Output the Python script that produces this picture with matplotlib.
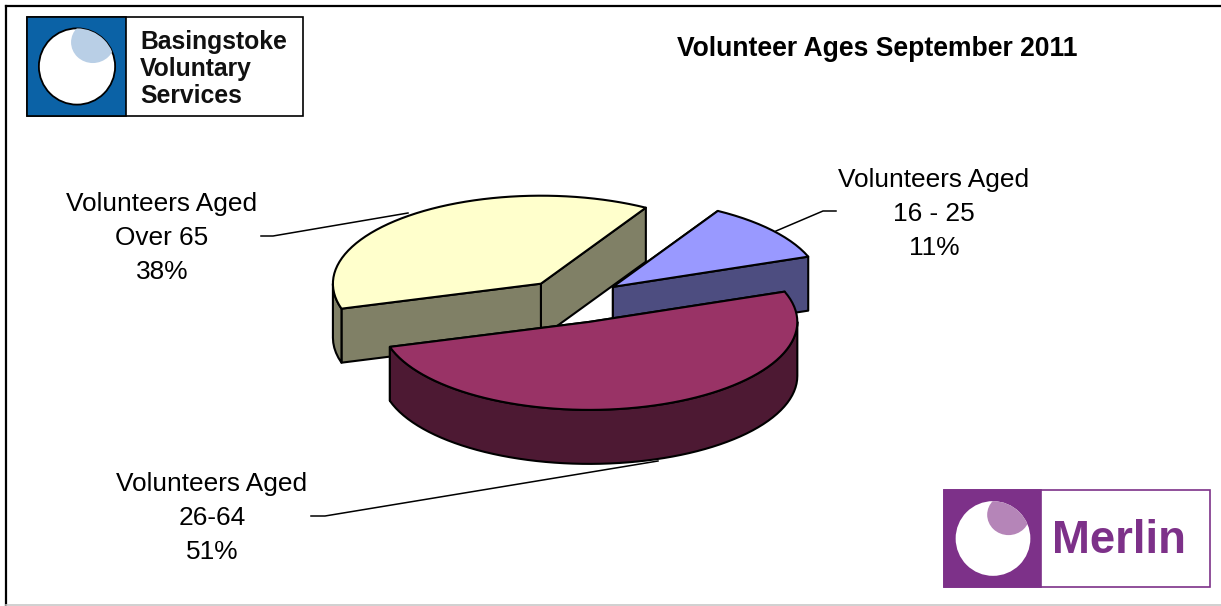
import numpy as np
import matplotlib
matplotlib.use("Agg")
import matplotlib.pyplot as plt
from matplotlib.patches import Circle, Ellipse, Polygon, Rectangle

plt.rcParams["font.family"] = ["Liberation Sans", "DejaVu Sans"]

# pie data, counter-clockwise from the first slice
labels = ["Volunteers Aged\n16 - 25", "Volunteers Aged\nOver 65", "Volunteers Aged\n26-64"]
values = [11, 38, 51]
top_colors = ["#9999FF", "#FFFFCC", "#993366"]
side_colors = ["#4D4D80", "#808066", "#4D1933"]
title = "Volunteer Ages September 2011"

W, H = 1221, 606
START_ANGLE = 20.1
CENTER = (573, 301)
RX, RY = 208, 88
DEPTH = 54
EXPLODE = 0.25

# label centre and leader line for each slice, pixels
label_pos = [(934, 214), (162, 238), (212, 518)]
leaders = [
    [(836, 211), (823, 211), (776, 231)],
    [(261, 236), (273, 236), (408, 213)],
    [(311, 516), (325, 516), (658, 461)],
]


def rim(cx, cy, a0, a1):
    t = np.radians(np.linspace(a0, a1, max(int(abs(a1 - a0) / 2.5), 2)))
    return np.column_stack([cx + RX * np.cos(t), cy - RY * np.sin(t)])


def draw_face(ax, pts, color, zorder):
    ax.add_patch(Polygon(pts, closed=True, facecolor=color, edgecolor="black",
                         linewidth=1.5, joinstyle="round", zorder=zorder))


def draw_slice(ax, a0, a1, top, side, zorder):
    mid = np.radians((a0 + a1) / 2)
    cx = CENTER[0] + EXPLODE * RX * np.cos(mid)
    cy = CENTER[1] - EXPLODE * RY * np.sin(mid)

    # cut faces, back one first
    for a in sorted([a0, a1], key=lambda v: -np.sin(np.radians(v))):
        edge = rim(cx, cy, a, a)[0]
        face = [(cx, cy), edge, edge + (0, DEPTH), (cx, cy + DEPTH)]
        draw_face(ax, face, side, zorder)

    # outer wall, only the part that faces the viewer
    for lo, hi in [(180, 360), (540, 720)]:
        s, e = max(a0, lo), min(a1, hi)
        if e > s:
            arc = rim(cx, cy, s, e)
            draw_face(ax, np.vstack([arc, arc[::-1] + (0, DEPTH)]), side, zorder)

    draw_face(ax, np.vstack([[(cx, cy)], rim(cx, cy, a0, a1)]), top, zorder)


def draw_logo(ax, x0, x1, x2, y0, y1, color, shade, ring):
    size = y1 - y0
    ax.add_patch(Rectangle((x0, y0), x2 - x0, size, facecolor="white", edgecolor=ring,
                           linewidth=1.2, zorder=5))
    ax.add_patch(Rectangle((x0, y0), x1 - x0, size, facecolor=color, edgecolor=ring,
                           linewidth=1.2, zorder=6))
    cx, cy = (x0 + x1) / 2 + 0.5, (y0 + y1) / 2
    disc = Circle((cx, cy), 0.385 * size, facecolor="white", edgecolor=ring if ring == "black" else "none",
                  linewidth=1.3, zorder=7)
    ax.add_patch(disc)
    spot = Ellipse((cx + 0.16 * size, cy - 0.245 * size), 0.44 * size, 0.42 * size,
                   facecolor=shade, edgecolor="none", zorder=8)
    ax.add_patch(spot)
    spot.set_clip_path(disc)


def main():
    fig = plt.figure(figsize=(W / 100, H / 100), dpi=100)
    ax = fig.add_axes([0, 0, 1, 1])
    ax.set_xlim(0, W)
    ax.set_ylim(H, 0)
    ax.axis("off")

    # frame
    ax.plot([6, 6], [H, 6], color="black", lw=1.6, zorder=1)
    ax.plot([6, W], [6, 6], color="black", lw=1.6, zorder=1)
    ax.plot([6, W], [604.5, 604.5], color="#C8C8C8", lw=1.2, zorder=1)

    for pts in leaders:
        xs, ys = zip(*pts)
        ax.plot(xs, ys, color="black", lw=1.1, zorder=2)

    spans = np.array(values) / sum(values) * 360
    ends = START_ANGLE + np.cumsum(spans)
    starts = ends - spans
    # painted back to front: yellow, blue, then the big front slice
    for i, z in zip([1, 0, 2], [3, 3.1, 3.2]):
        draw_slice(ax, starts[i], ends[i], top_colors[i], side_colors[i], z)

    for label, value, (x, y) in zip(labels, values, label_pos):
        ax.text(x, y, f"{label}\n{value}%", ha="center", va="center", fontsize=18.9,
                linespacing=1.52, color="black", zorder=9)

    ax.text(877, 56, title, ha="center", va="baseline", fontsize=19.1, fontweight="bold")

    draw_logo(ax, 27, 126, 303, 17, 116, "#0B62A6", "#B9CFE6", "black")
    for line, y in zip(["Basingstoke", "Voluntary", "Services"], [49, 76, 103]):
        ax.text(140, y, line, ha="left", va="baseline", fontsize=17.8, fontweight="bold",
                color="#111111", zorder=9)

    draw_logo(ax, 944, 1041, 1210, 490, 587, "#7D3189", "#B585B8", "#7D3189")
    ax.text(1052, 553, "Merlin", ha="left", va="baseline", fontsize=32.8, fontweight="bold",
            color="#7D3189", zorder=9)

    fig.savefig("out.png", dpi=100)
    plt.close(fig)


if __name__ == "__main__":
    main()
